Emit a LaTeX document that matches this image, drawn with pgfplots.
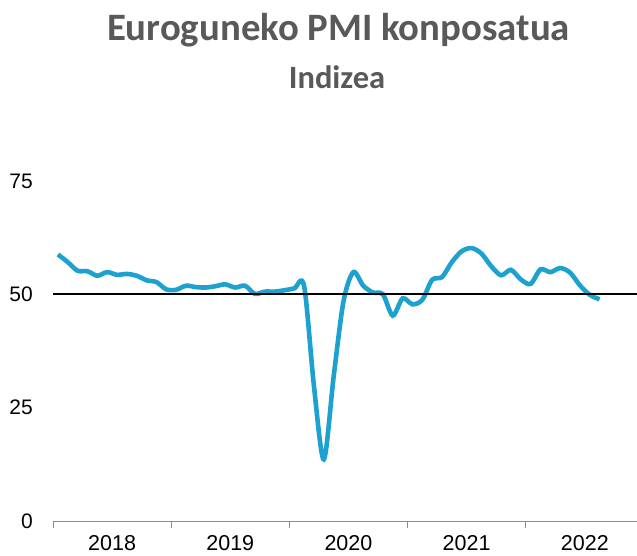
\documentclass[border=0pt]{standalone}
\usepackage{pgfplots}
\pgfplotsset{compat=1.18}
\usepackage{fontspec}
\setmainfont{Liberation Sans}
\newfontfamily\titlefont{Carlito}
\definecolor{titlegrey}{HTML}{595959}
\definecolor{pmiblue}{HTML}{1DA1CE}
\definecolor{axgrey}{HTML}{8C8C8C}
\begin{document}
\begin{tikzpicture}
\useasboundingbox (0,0) rectangle (637bp,556bp);
\node[anchor=base, text=titlegrey, font=\titlefont\bfseries\fontsize{38.8bp}{42bp}\selectfont] at (338.5bp,515bp) {Euroguneko PMI konposatua};
\node[anchor=base, text=titlegrey, font=\titlefont\bfseries\fontsize{32.5bp}{36bp}\selectfont] at (337bp,467bp) {Indizea};
\begin{axis}[
  at={(53bp,35bp)}, anchor=south west,
  scale only axis, width=584bp, height=340bp,
  xmin=-0.5, xmax=58.8, ymin=0, ymax=75,
  axis x line*=bottom, axis y line*=left,
  axis line style={-},
  x axis line style={draw=axgrey, line width=1pt},
  y axis line style={draw=none},
  xtick={5.5,17.5,29.5,41.5,53.5},
  xticklabels={2018,2019,2020,2021,2022},
  minor xtick={-0.5,11.5,23.5,35.5,47.5},
  tick align=outside,
  major tick length=0pt,
  minor tick length=7bp,
  minor x tick style={draw=axgrey, line width=1pt},
  ytick={0,25,50,75},
  ytick style={draw=none},
  /pgf/number format/assume math mode=true,
  tick label style={text=black, inner sep=0pt},
  xticklabel style={font=\fontsize{21.5bp}{23bp}\selectfont, anchor=north, yshift=-14bp},
  yticklabel style={font=\fontsize{21bp}{23bp}\selectfont, anchor=east, xshift=-20bp},
  clip=false,
]
\addplot[pmiblue, line width=4.6bp, smooth, tension=0.5] coordinates {
(0,58.8) (1,57.1) (2,55.2) (3,55.1) (4,54.1) (5,54.9) (6,54.3) (7,54.5) (8,54.1) (9,53.1) (10,52.7) (11,51.1)
(12,51.0) (13,51.9) (14,51.6) (15,51.5) (16,51.8) (17,52.2) (18,51.5) (19,51.9) (20,50.1) (21,50.6) (22,50.6) (23,50.9)
(24,51.3) (25,51.8) (26,29.7) (27,13.6) (28,31.9) (29,48.5) (30,54.9) (31,51.9) (32,50.4) (33,50.0) (34,45.3) (35,49.1)
(36,47.8) (37,48.8) (38,53.2) (39,53.8) (40,57.1) (41,59.5) (42,60.2) (43,59.0) (44,56.2) (45,54.2) (46,55.4) (47,53.3)
(48,52.3) (49,55.5) (50,54.9) (51,55.8) (52,54.8) (53,52.0) (54,49.9) (55,48.9)
};
\addplot[black, line width=2bp] coordinates {(-0.5,50) (58.8,50)};
\end{axis}
\end{tikzpicture}
\end{document}
